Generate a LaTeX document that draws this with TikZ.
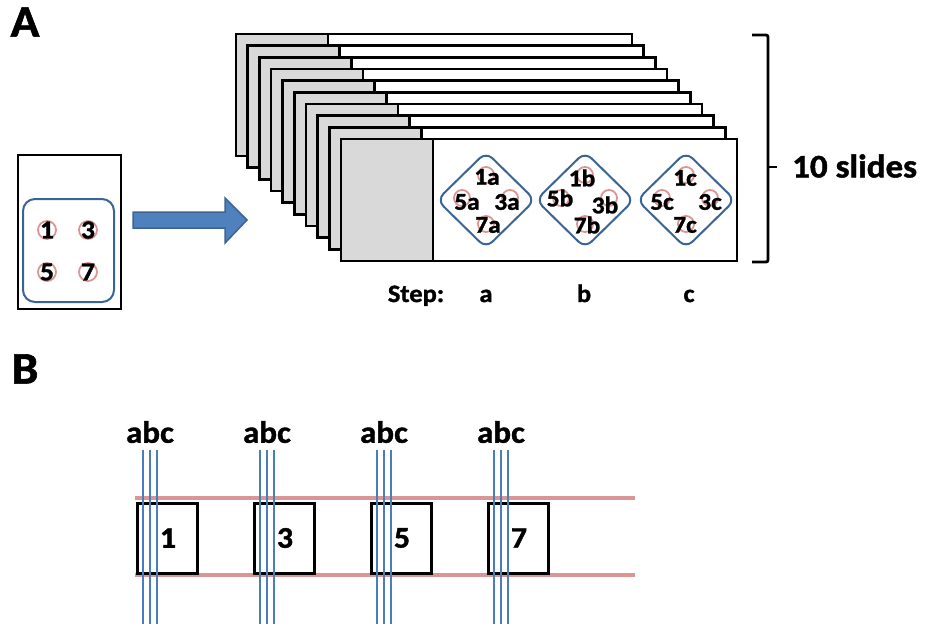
\documentclass[tikz,border=0pt]{standalone}
\usepackage{fontspec}
\setmainfont{Carlito}[BoldFeatures={FakeBold=1.3,FakeStretch=1.06}]
\usetikzlibrary{positioning}

\definecolor{wellred}{HTML}{D99694}
\definecolor{frameblue}{HTML}{3B6496}
\definecolor{arrowblue}{HTML}{4F81BD}
\definecolor{lineblue}{HTML}{4A7EBB}
\definecolor{slidegray}{HTML}{D9D9D9}

\begin{document}
\begin{tikzpicture}[x=1pt,y=-1pt,every node/.style={inner sep=0pt},
  txt/.style={font=\bfseries\fontsize{#1}{#1}\selectfont},
  well/.style={draw=wellred,line width=1.8pt,circle,minimum size=18pt},
  frame/.style={draw=frameblue,line width=2pt},
  edgeline/.style={line width=2.8pt},
  boxcell/.style={draw,line width=2.8pt,minimum width=60pt,minimum height=70pt},
  node distance=98pt]
\useasboundingbox (0,0) rectangle (928,624);

% panel labels
\node[txt=45] (pA) at (25,22) {A};
\node[txt=45] (pB) at (25,369) {B};

% the source slide with its four wells
\draw[edgeline] (18,155) rectangle (121,309);
\draw[frame,rounded corners=12pt] (23,199) rectangle (114,302);
\foreach \n/\x/\y in {1/47/230,3/88/230,5/47/272,7/88/272}{
  \node[well] at (\x,\y) {};
  \node[txt=26] (w\n) at (\x,\y) {\n};
}

% block arrow
\draw[frameblue,fill=arrowblue,line width=1.5pt]
  (133,212) -- (225,212) -- (225,198) -- (247,220) -- (225,243) -- (225,228) -- (133,228) -- cycle;

% stack of 10 slides, back to front
\foreach \i in {0,...,9}{
  \pgfmathsetmacro\sx{236+11.67*\i}
  \pgfmathsetmacro\sy{34+11.67*\i}
  \fill[white] (\sx,\sy) rectangle ++(396,122);
  \fill[slidegray] (\sx,\sy) rectangle ++(92,122);
  \draw[edgeline] (\sx+92,\sy) -- ++(0,122);
  \draw[edgeline] (\sx,\sy) rectangle ++(396,122);
}

% wells on the front slide
\foreach \cx in {486,585,686}{
  \draw[frame,rounded corners=9pt] (\cx-49,200) -- (\cx,152) -- (\cx+49,200) -- (\cx,248) -- cycle;
  \foreach \dx/\dy in {0/-25,-24/-2,24/-2,0/24}
    \node[well,minimum size=16pt] at (\cx+\dx,200+\dy) {};
}
\foreach \t/\x/\y in {1a/487/177,5a/467/202,3a/507/202,7a/488/225,
                      1b/582/178,5b/560/198,3b/605/205,7b/587/225,
                      1c/685/178,5c/662/202,3c/710/202,7c/685/225}
  \node[txt=24] (s\t) at (\x,\y) {\t};

% steps
\node[txt=25,anchor=base] (step) at (416,302) {Step:};
\node[txt=25,anchor=base] (sa) at (486,302) {a};
\node[txt=25,anchor=base] (sb) [right=of sa.base,anchor=base] {b};
\node[txt=25,anchor=base] (sc) at (689,302) {c};

% bracket
\draw[edgeline,rounded corners=2pt] (752,35) -- (768,35) -- (768,262) -- (752,262);
\draw[edgeline] (768,167) -- (777,167);
\node[txt=33,anchor=west] (ten) at (792,166) {10 slides};

% sections through the wells
\draw[wellred,line width=4pt] (135,498) -- (635,498);
\draw[wellred,line width=4pt] (135,575) -- (635,575);
\foreach \n [count=\k from 0] in {1,3,5,7}{
  \pgfmathsetmacro\bx{136+117*\k}
  \node[boxcell,anchor=north west] (b\n) at (\bx,502) {};
  \node[txt=30] (n\n) at (\bx+32,538) {\n};
  \node[txt=31] (abc\n) at (\bx+14,432) {abc};
  \foreach \d in {-7,0,7}
    \draw[lineblue,line width=1.6pt] (\bx+14+\d,450) -- (\bx+14+\d,624);
}
\end{tikzpicture}
\end{document}
